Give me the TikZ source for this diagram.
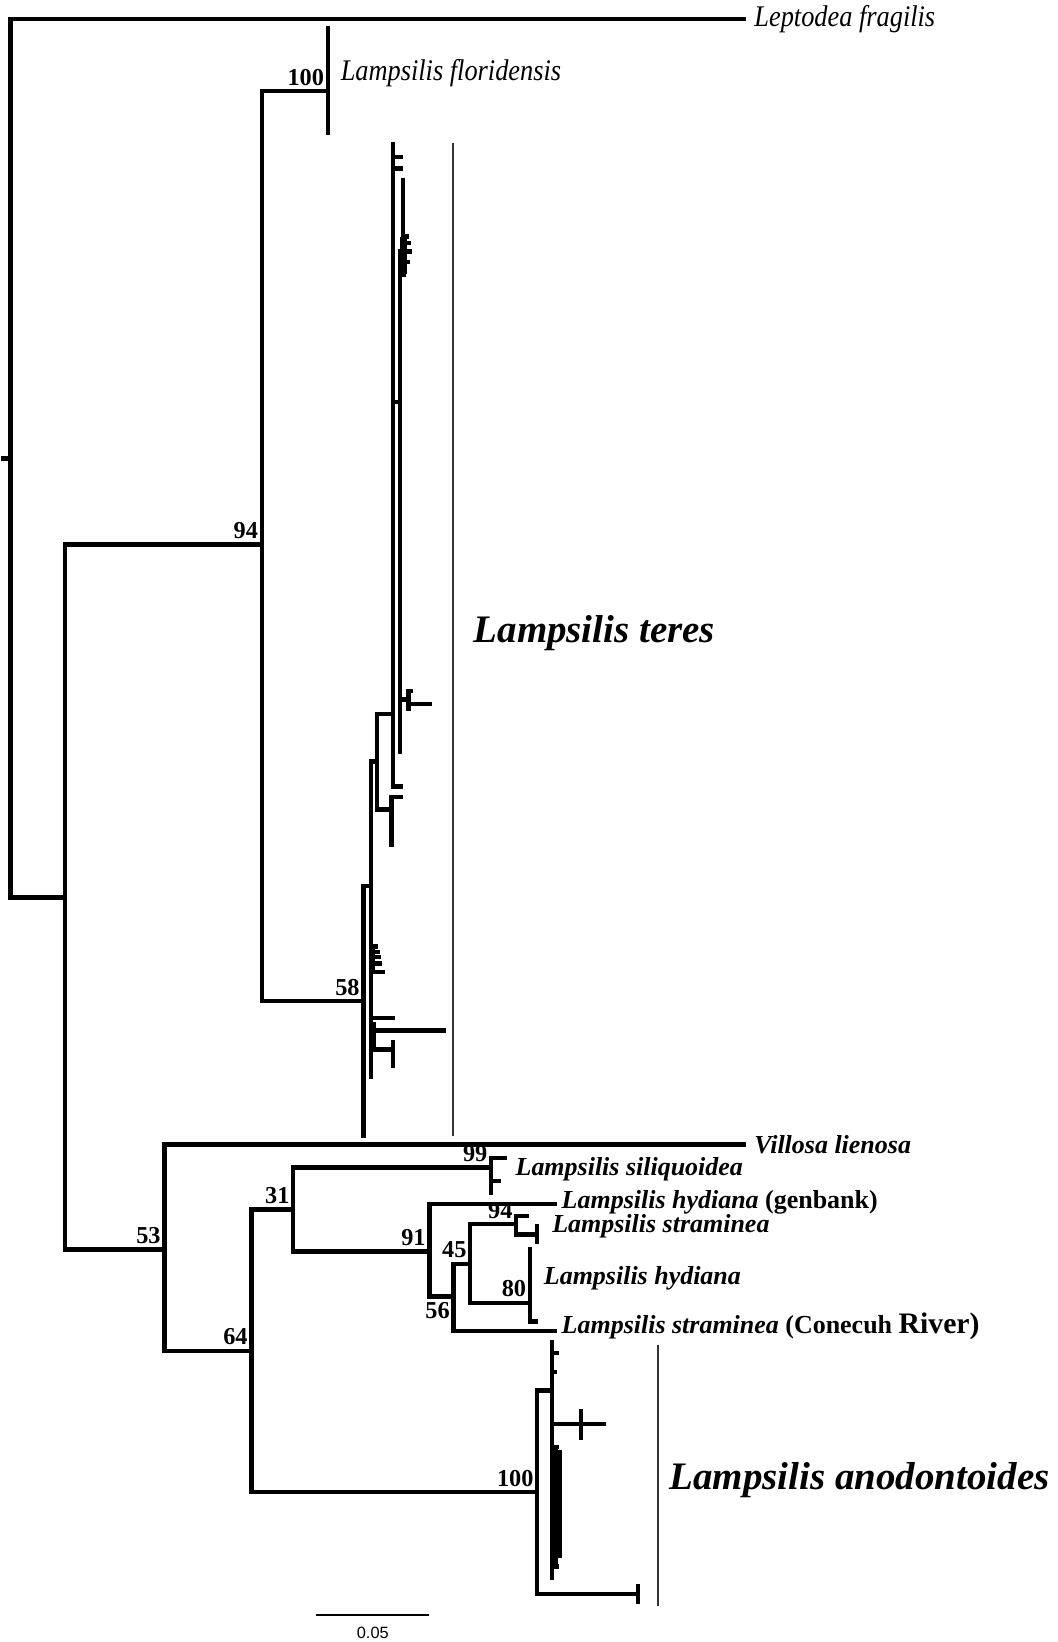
\documentclass[tikz,border=0pt]{standalone}
\usepackage{fontspec}
\usepackage{tikz}
\usetikzlibrary{positioning}
\setmainfont{Liberation Serif}
\setsansfont{Liberation Sans}
\newfontfamily\narrowserif[FakeStretch=0.88]{Liberation Serif}
\definecolor{BarGray}{HTML}{333333}

\begin{document}
\begin{tikzpicture}[x=0.5pt,y=-0.5pt,
    branch/.style={line width=2.1pt, line cap=rect},
    cladebar/.style={line width=0.95pt, draw=BarGray},
    boot/.style={font=\bfseries\fontsize{11.6}{12}\selectfont, inner sep=0pt},
    bootup/.style={boot, anchor=south east, xshift=-1.6pt, yshift=2.6pt},
    bootdown/.style={boot, anchor=north east, xshift=-1.6pt, yshift=-2.6pt},
    taxon/.style={font=\bfseries\itshape\fontsize{12.4}{13}\selectfont, anchor=west, inner sep=0pt},
    outtaxon/.style={font=\narrowserif\itshape\fontsize{14.3}{15}\selectfont, anchor=west, inner sep=0pt},
    group/.style={font=\bfseries\itshape\fontsize{18.6}{20}\selectfont, anchor=west, inner sep=0pt}]
  \useasboundingbox (0,0) rectangle (1010,1568);

  % internal nodes
  \coordinate (stem) at (3,438);
  \coordinate (R) at (10,438);
  \coordinate (A) at (62,857);
  \coordinate (B) at (250,520);
  \coordinate (C) at (313,87);
  \coordinate (D) at (347,956);
  \coordinate (D1) at (354,846);
  \coordinate (D2) at (360,727);
  \coordinate (D3) at (357,984);
  \coordinate (D4) at (375,1002);
  \coordinate (D5) at (375,682);
  \coordinate (D6) at (374,773);
  \coordinate (D7) at (382,384);
  \coordinate (D8) at (385,240);
  \coordinate (D9) at (390,668);
  \coordinate (D10) at (356,915);
  \coordinate (E) at (157,1193);
  \coordinate (F) at (240,1290);
  \coordinate (G) at (280,1155);
  \coordinate (S) at (469,1115);
  \coordinate (H) at (410,1195);
  \coordinate (I) at (433,1238);
  \coordinate (J) at (449,1207);
  \coordinate (K) at (493,1169);
  \coordinate (K2) at (513,1179);
  \coordinate (L) at (506,1244);
  \coordinate (M) at (513,1425);
  \coordinate (M1) at (527,1328);
  \coordinate (M2) at (555,1360);
  \coordinate (M3) at (531,1440);
  \coordinate (M4) at (609,1522);

  % named tips
  \coordinate (lfrag) at (710,18);
  \coordinate (vlien) at (710,1093);
  \coordinate (hydG) at (530,1150);
  \coordinate (cone) at (530,1271);

  % backbone
  \draw[branch] (stem) -- (R);
  \draw[branch] (R) |- (lfrag);
  \draw[branch] (R) |- (A);
  \draw[branch] (A) |- (B);
  \draw[branch] (A) |- (E);
  \draw[branch] (B) |- (C);
  \draw[branch] (B) |- (D);
  \foreach \x/\y in {313/27, 313/127}
    \draw[branch] (C) |- (\x,\y);

  % L. teres
  \draw[branch] (D) |- (D1);
  \draw[branch] (D) |- (347,1085);
  \draw[branch] (D1) |- (D2);
  \draw[branch] (D1) |- (D10);
  \draw[branch] (D1) |- (D3);
  \foreach \x/\y in {375/972, 354/1028}
    \draw[branch] (D1) |- (\x,\y);
  \draw[branch] (D2) |- (D5);
  \draw[branch] (D2) |- (D6);
  \draw[branch] (D5) |- (D7);
  \foreach \x/\y in {375/138, 383/150, 383/161, 383/751}
    \draw[branch] (D5) |- (\x,\y);
  \draw[branch] (D7) |- (D8);
  \draw[branch] (D7) |- (D9);
  \draw[branch] (D7) |- (382,718);
  \foreach \x/\y in {385/172, 388/226, 390/232, 391/240, 389/250, 386/262}
    \draw[branch] (D8) |- (\x,\y);
  \draw[line width=3.6pt] (385.5,226) -- (385.5,262);
  \foreach \x/\y in {392/660, 410/672, 390/677}
    \draw[branch] (D9) |- (\x,\y);
  \foreach \x/\y in {383/761, 374/807}
    \draw[branch] (D6) |- (\x,\y);
  \foreach \x/\y in {359/904, 361/909, 362/914, 363/920, 366/928}
    \draw[branch] (D10) |- (\x,\y);
  \draw[branch] (D3) |- (D4);
  \foreach \x/\y in {424/984, 357/978}
    \draw[branch] (D3) |- (\x,\y);
  \foreach \x/\y in {375/995, 375/1018}
    \draw[branch] (D4) |- (\x,\y);

  % lower clade
  \draw[branch] (E) |- (vlien);
  \draw[branch] (E) |- (F);
  \draw[branch] (F) |- (G);
  \draw[branch] (F) |- (M);
  \draw[branch] (G) |- (S);
  \draw[branch] (G) |- (H);
  \foreach \x/\y in {482/1106, 476/1128, 469/1139}
    \draw[branch] (S) |- (\x,\y);
  \draw[branch] (H) |- (hydG);
  \draw[branch] (H) |- (I);
  \draw[branch] (I) |- (J);
  \draw[branch] (I) |- (cone);
  \draw[branch] (J) |- (K);
  \draw[branch] (J) |- (L);
  \draw[branch] (K) |- (503,1161);
  \draw[branch] (K) |- (K2);
  \foreach \x/\y in {513/1171, 513/1186}
    \draw[branch] (K2) |- (\x,\y);
  \foreach \x/\y in {506/1193, 512/1262}
    \draw[branch] (L) |- (\x,\y);

  % L. anodontoides
  \draw[branch] (M) |- (M1);
  \draw[branch] (M) |- (M4);
  \draw[branch] (M1) |- (M2);
  \draw[branch] (M1) |- (M3);
  \foreach \x/\y in {527/1282, 532/1292, 530/1310, 527/1507}
    \draw[branch] (M1) |- (\x,\y);
  \foreach \x/\y in {555/1348, 555/1373, 577/1360}
    \draw[branch] (M2) |- (\x,\y);
  \foreach \x/\y in {532/1382, 533/1396, 534/1420, 534/1460, 533/1480, 532/1496}
    \draw[branch] (M3) |- (\x,\y);
  \draw[line width=3.6pt] (533.5,1385) -- (533.5,1488);
  \foreach \x/\y in {609/1515, 609/1530}
    \draw[branch] (M4) |- (\x,\y);

  % support values
  \node[bootup] (b94) at (B) {94};
  \node[bootup] (b100a) at (C) {100};
  \node[bootup] (b58) at (D) {58};
  \node[bootup] (b53) at (E) {53};
  \node[bootup] (b64) at (F) {64};
  \node[bootup] (b31) at (G) {31};
  \node[bootup] (b99) at (S) {99};
  \node[bootup] (b91) at (H) {91};
  \node[bootdown] (b56) at (I) {56};
  \node[bootup] (b45) at (J) {45};
  \node[bootup] (b94b) at (K) {94};
  \node[bootup] (b80) at (L) {80};
  \node[bootup] (b100b) at (M) {100};

  % taxa
  \node[outtaxon, right=5pt of lfrag] (tfrag) {Leptodea fragilis};
  \node[outtaxon] (tflor) at (325,70) {Lampsilis floridensis};
  \node[taxon, right=5pt of vlien] (tlien) {Villosa lienosa};
  \node[taxon] (tsili) at (492,1117) {Lampsilis siliquoidea};
  \node[taxon] (thydg) at (536,1148) {Lampsilis hydiana \upshape(genbank)};
  \node[taxon] (tstra) at (527,1171) {Lampsilis straminea};
  \node[taxon] (thyd) at (519,1221) {Lampsilis hydiana};
  \node[taxon] (tcone) at (536,1267) {Lampsilis straminea \upshape(Conecuh {\fontsize{14.2}{15}\selectfont River)}};

  % clade bars
  \coordinate (tbar1) at (433,137);
  \coordinate (tbar2) at (433,1085);
  \coordinate (abar1) at (628,1284);
  \coordinate (abar2) at (628,1534);
  \draw[cladebar] (tbar1) -- (tbar2);
  \draw[cladebar] (abar1) -- (abar2);
  \node[group] (tteres) at (452,605) {Lampsilis teres};
  \node[group] (tanod) at (639,1413) {Lampsilis anodontoides};

  % scale
  \coordinate (sb1) at (302,1542);
  \coordinate (sb2) at (410,1542);
  \draw[line width=0.8pt] (sb1) -- (sb2);
  \node[font=\sffamily\fontsize{7.8}{8}\selectfont, inner sep=0pt] (sbl) at (356,1559) {0.05};
\end{tikzpicture}
\end{document}
